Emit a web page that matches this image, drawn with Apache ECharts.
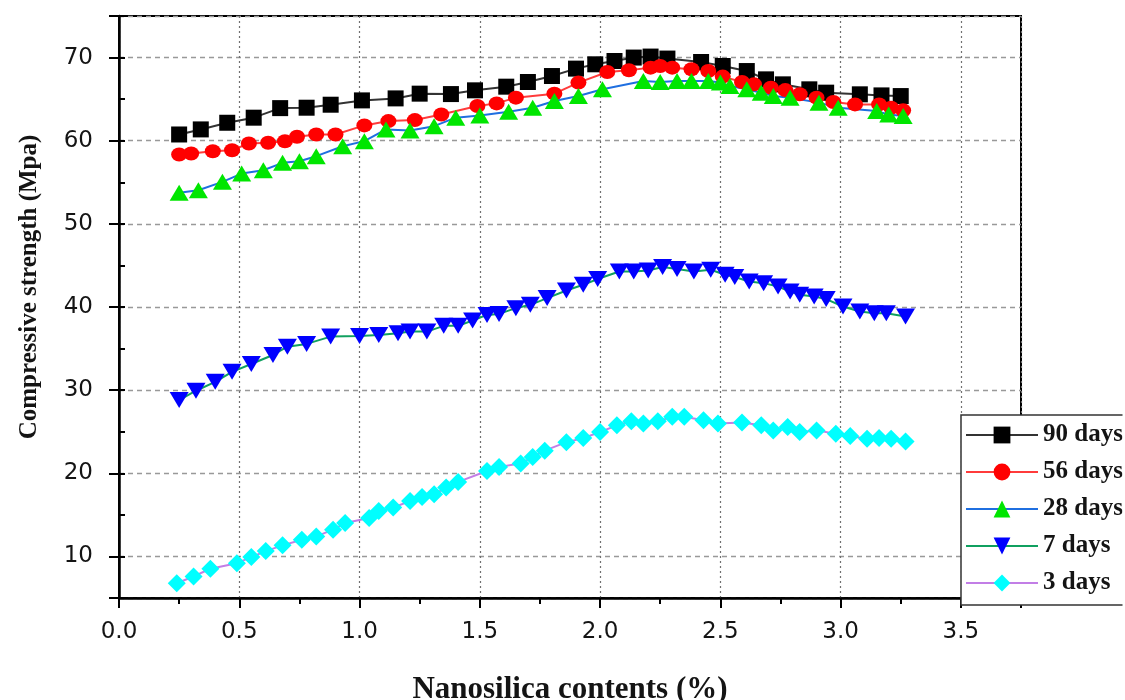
<!DOCTYPE html>
<html>
<head>
<meta charset="utf-8">
<title>Compressive strength vs nanosilica content</title>
<script src="https://cdn.jsdelivr.net/npm/echarts@6/dist/echarts.min.js"></script>
<style>
  html, body { margin: 0; padding: 0; background: #fff; overflow: hidden; }
  #chart { width: 1125px; height: 700px; }
</style>
</head>
<body>
<div id="chart"></div>
<script>
// values (x = nanosilica %, y = MPa)
const days90X = [0.25, 0.34, 0.45, 0.56, 0.67, 0.78, 0.88, 1.01, 1.15, 1.25, 1.38, 1.48, 1.61, 1.70, 1.80, 1.90, 1.98, 2.06, 2.14, 2.21, 2.28, 2.42, 2.51, 2.61, 2.69, 2.76, 2.87, 2.94, 3.08, 3.17, 3.25]
const days90Y = [60.75, 61.36, 62.16, 62.77, 63.92, 63.97, 64.33, 64.85, 65.09, 65.66, 65.61, 66.06, 66.5, 67.06, 67.78, 68.67, 69.19, 69.59, 70.0, 70.12, 69.88, 69.47, 68.99, 68.38, 67.38, 66.78, 66.18, 65.78, 65.58, 65.45, 65.37]

const days56X = [0.25, 0.30, 0.39, 0.47, 0.54, 0.62, 0.69, 0.74, 0.82, 0.90, 1.02, 1.12, 1.23, 1.34, 1.49, 1.57, 1.65, 1.81, 1.91, 2.03, 2.12, 2.21, 2.25, 2.30, 2.38, 2.45, 2.51, 2.59, 2.64, 2.71, 2.77, 2.83, 2.90, 2.97, 3.06, 3.16, 3.21, 3.26]
const days56Y = [58.34, 58.46, 58.74, 58.86, 59.67, 59.75, 59.94, 60.48, 60.75, 60.75, 61.84, 62.36, 62.48, 63.16, 64.17, 64.49, 65.18, 65.66, 66.99, 68.26, 68.47, 68.79, 68.99, 68.79, 68.59, 68.38, 67.71, 67.06, 66.78, 66.38, 66.09, 65.58, 65.18, 64.65, 64.37, 64.37, 63.97, 63.65]

const days28X = [0.25, 0.33, 0.43, 0.51, 0.60, 0.68, 0.75, 0.82, 0.93, 1.02, 1.11, 1.21, 1.31, 1.40, 1.50, 1.62, 1.72, 1.81, 1.91, 2.01, 2.18, 2.25, 2.32, 2.38, 2.45, 2.50, 2.54, 2.61, 2.67, 2.72, 2.79, 2.91, 2.99, 3.15, 3.20, 3.26]
const days28Y = [53.73, 54.04, 55.05, 56.05, 56.45, 57.34, 57.53, 58.14, 59.34, 59.95, 61.36, 61.24, 61.75, 62.77, 63.04, 63.49, 63.97, 64.77, 65.37, 66.18, 67.18, 67.06, 67.18, 67.18, 67.18, 66.99, 66.58, 66.18, 65.78, 65.37, 65.18, 64.58, 63.97, 63.56, 63.16, 62.96]

const days7X = [0.25, 0.32, 0.40, 0.47, 0.55, 0.64, 0.70, 0.78, 0.88, 1.00, 1.08, 1.16, 1.21, 1.28, 1.35, 1.41, 1.47, 1.53, 1.58, 1.65, 1.71, 1.78, 1.86, 1.93, 1.99, 2.08, 2.14, 2.20, 2.26, 2.32, 2.39, 2.46, 2.52, 2.56, 2.62, 2.68, 2.74, 2.79, 2.83, 2.89, 2.94, 3.01, 3.08, 3.14, 3.19, 3.27]
const days7Y = [28.8, 29.93, 31.0, 32.2, 33.15, 34.23, 35.23, 35.56, 36.44, 36.52, 36.64, 36.84, 37.04, 37.04, 37.73, 37.73, 38.37, 39.05, 39.17, 39.86, 40.26, 41.07, 41.98, 42.67, 43.36, 44.27, 44.27, 44.39, 44.8, 44.56, 44.27, 44.48, 43.88, 43.6, 43.07, 42.87, 42.47, 41.86, 41.47, 41.26, 40.95, 40.06, 39.45, 39.26, 39.26, 38.85]

const days3X = [0.24, 0.31, 0.38, 0.49, 0.55, 0.61, 0.68, 0.76, 0.82, 0.89, 0.94, 1.04, 1.08, 1.14, 1.21, 1.26, 1.31, 1.36, 1.41, 1.53, 1.58, 1.67, 1.72, 1.77, 1.86, 1.93, 2.00, 2.07, 2.13, 2.18, 2.24, 2.30, 2.35, 2.43, 2.49, 2.59, 2.67, 2.72, 2.78, 2.83, 2.90, 2.98, 3.04, 3.11, 3.16, 3.21, 3.27]
const days3Y = [6.78, 7.59, 8.52, 9.19, 9.92, 10.64, 11.33, 12.01, 12.41, 13.22, 14.01, 14.62, 15.46, 15.87, 16.67, 17.15, 17.47, 18.28, 18.96, 20.28, 20.77, 21.17, 21.97, 22.72, 23.74, 24.23, 24.96, 25.77, 26.26, 25.98, 26.26, 26.79, 26.79, 26.38, 25.98, 26.1, 25.77, 25.16, 25.57, 24.96, 25.16, 24.76, 24.47, 24.15, 24.23, 24.15, 23.82]

const SERIF = '"Times New Roman", "Liberation Serif", serif'
const SANS = '"DejaVu Sans", Arial, sans-serif'
const INK = '#141414'

const seriesDefs = [
  { name: '90 days', xs: days90X, ys: days90Y, line: '#333333', mark: '#000000', symbol: 'rect', size: 16 },
  { name: '56 days', xs: days56X, ys: days56Y, line: '#ff3b3b', mark: '#ff0000', symbol: 'circle', size: [16, 14] },
  { name: '28 days', xs: days28X, ys: days28Y, line: '#1f6fe0', mark: '#00e600', symbol: 'triangle', size: [19, 16] },
  { name: '7 days', xs: days7X, ys: days7Y, line: '#10a060', mark: '#0000ff', symbol: 'triangle', size: [19, 16], rotate: 180 },
  { name: '3 days', xs: days3X, ys: days3Y, line: '#c27ee6', mark: '#00ffff', symbol: 'diamond', size: 18 },
]

const isHalfStep = (v) => Math.abs(v * 2 - Math.round(v * 2)) < 1e-6 && v <= 3.5

const chart = echarts.init(document.getElementById('chart'))
chart.setOption({
  animation: false,
  backgroundColor: '#fff',
  grid: {
    left: 119, right: 104, top: 16, bottom: 102,
    outerBoundsMode: 'none',
    show: true, borderColor: '#000', borderWidth: 2, backgroundColor: 'transparent',
  },
  // the legend frame runs off the right edge in the original
  graphic: [
    { type: 'rect', right: 0, top: 412, shape: { width: 2.5, height: 200 }, style: { fill: '#fff' }, z: 100 },
  ],
  xAxis: {
    type: 'value',
    min: 0,
    max: 3.75,
    interval: 0.5,
    name: 'Nanosilica contents (%)',
    nameLocation: 'middle',
    nameGap: 76,
    nameTextStyle: { fontFamily: SERIF, fontWeight: 'bold', fontSize: 31, color: INK },
    axisLine: { onZero: false, lineStyle: { color: '#000', width: 2.5 } },
    axisTick: { length: 10, lineStyle: { color: '#000', width: 2 } },
    minorTick: { show: true, splitNumber: 2, length: 6, lineStyle: { color: '#000', width: 2 } },
    axisLabel: {
      margin: 23, fontFamily: SANS, fontSize: 23, color: INK,
      formatter: (v) => (isHalfStep(v) ? v.toFixed(1) : ''),
    },
    splitLine: { show: true, lineStyle: { color: '#707070', width: 1.2, type: [2, 3] } },
  },
  yAxis: [
    {
      type: 'value',
      min: 5,
      max: 75,
      minInterval: 10,
      maxInterval: 10,
      name: 'Compressive strength (Mpa)',
      nameLocation: 'middle',
      nameRotate: 90,
      nameGap: 77,
      nameTextStyle: { fontFamily: SERIF, fontWeight: 'bold', fontSize: 25, color: INK, padding: [0, 0, 0, 40] },
      axisLine: { show: true, onZero: false, lineStyle: { color: '#000', width: 2.5 } },
      axisTick: { show: true, length: 10, lineStyle: { color: '#000', width: 2 } },
      axisLabel: {
        margin: 26, fontFamily: SANS, fontSize: 23, color: INK,
        formatter: (v) => (v % 10 === 0 ? String(v) : ''),
      },
      splitLine: { show: true, lineStyle: { color: '#999', width: 1.3, type: [5, 4] } },
    },
    {
      // minor ticks every 5 MPa
      type: 'value',
      min: 5,
      max: 75,
      interval: 5,
      axisLine: { show: false },
      axisTick: { show: true, length: 6, lineStyle: { color: '#000', width: 2 } },
      axisLabel: { show: false },
      splitLine: { show: false },
    },
  ],
  legend: {
    orient: 'vertical',
    left: 961,
    top: 415,
    itemWidth: 72,
    itemHeight: 21,
    itemGap: 11,
    padding: [7, 120, 9, 4],
    backgroundColor: '#fff',
    borderColor: '#333',
    borderWidth: 1.5,
    textStyle: { fontFamily: SERIF, fontWeight: 'bold', fontSize: 25, lineHeight: 26, color: INK },
    data: seriesDefs.map((d) => d.name),
  },
  series: seriesDefs.map((d) => ({
    name: d.name,
    type: 'line',
    yAxisIndex: 0,
    data: d.xs.map((x, i) => [x, d.ys[i]]),
    symbol: d.symbol,
    symbolSize: d.size,
    symbolRotate: d.rotate || 0,
    showAllSymbol: true,
    lineStyle: { color: d.line, width: 2 },
    itemStyle: { color: d.mark },
    emphasis: { disabled: true },
  })),
})
</script>
</body>
</html>
